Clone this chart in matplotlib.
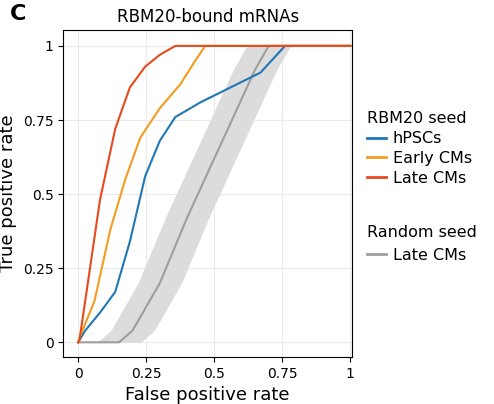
import matplotlib.pyplot as plt
import numpy as np
from matplotlib.lines import Line2D

# ROC curves
hpsc_x = [0, 0.026, 0.08, 0.136, 0.19, 0.246, 0.30, 0.357, 0.45, 0.56, 0.67, 0.76, 1]
hpsc_y = [0, 0.04, 0.10, 0.17, 0.34, 0.56, 0.68, 0.76, 0.81, 0.86, 0.91, 1.0, 1.0]
early_x = [0, 0.007, 0.06, 0.118, 0.173, 0.228, 0.30, 0.375, 0.43, 0.467, 1]
early_y = [0, 0.02, 0.14, 0.38, 0.55, 0.69, 0.79, 0.87, 0.95, 1.0, 1.0]
late_x = [0, 0.005, 0.037, 0.08, 0.136, 0.19, 0.246, 0.30, 0.357, 1]
late_y = [0, 0.01, 0.21, 0.48, 0.72, 0.86, 0.93, 0.97, 1.0, 1.0]
rand_x = [0, 0.15, 0.2, 0.3, 0.4, 0.5, 0.6, 0.65, 0.7, 1]
rand_y = [0, 0, 0.04, 0.2, 0.42, 0.62, 0.82, 0.92, 1.0, 1.0]
band_shift = 0.08

ticks = [0, 0.25, 0.5, 0.75, 1]
tick_labels = ["0", "0.25", "0.5", "0.75", "1"]

blue, orange, red, gray = "#1f77b4", "#f39c1f", "#e8491d", "#9e9e9e"

fig = plt.figure(figsize=(4.94, 4.04), dpi=100)
ax = fig.add_axes([0.128, 0.116, 0.585, 0.81])

ry = np.array(rand_y)
rx = np.array(rand_x)
yy = np.linspace(0, 1, 200)
xc = np.interp(yy, ry[1:-1], rx[1:-1])
ax.fill_betweenx(yy, np.clip(xc - band_shift, 0, 1), np.clip(xc + band_shift, 0, 1),
                 color="#dcdcdc", lw=0)
ax.plot(rand_x, rand_y, color=gray, lw=1.5)
ax.plot(hpsc_x, hpsc_y, color=blue, lw=1.5)
ax.plot(early_x, early_y, color=orange, lw=1.5)
ax.plot(late_x, late_y, color=red, lw=1.5)

ax.set_xlim(-0.055, 1.007)
ax.set_ylim(-0.05, 1.054)
ax.set_xticks(ticks, tick_labels)
ax.set_yticks(ticks, tick_labels)
ax.grid(color="#ebebeb", lw=0.8)
ax.set_axisbelow(True)
for s in ax.spines.values():
    s.set_color("black")
ax.tick_params(labelsize=10)
ax.set_xlabel("False positive rate", fontsize=13)
ax.set_ylabel("True positive rate", fontsize=13)
ax.set_title("RBM20-bound mRNAs", fontsize=12)
fig.text(0.02, 0.95, "C", fontsize=16, fontweight="bold")

handles = [Line2D([], [], color=c, lw=2) for c in (blue, orange, red)]
fig.legend(handles, ["hPSCs", "Early CMs", "Late CMs"], title="RBM20 seed",
           loc="upper left", bbox_to_anchor=(0.73, 0.74), frameon=False,
           fontsize=11.5, title_fontsize=11.5, handlelength=1.2, alignment="left",
           borderaxespad=0, handletextpad=0.4, labelspacing=0.3)
fig.legend([Line2D([], [], color=gray, lw=2)], ["Late CMs"], title="Random seed",
           loc="upper left", bbox_to_anchor=(0.73, 0.46), frameon=False,
           fontsize=11.5, title_fontsize=11.5, handlelength=1.2, alignment="left",
           borderaxespad=0, handletextpad=0.4)

fig.savefig("out.png", dpi=100)
